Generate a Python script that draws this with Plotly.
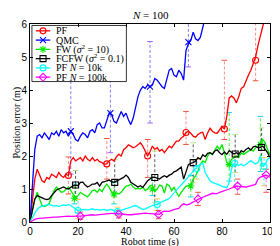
import plotly.graph_objects as go

# ---------------- data ----------------
t = list(range(0, 101))
t_qmc = list(range(0, 77))

pf = [0, 0.6, 1.3, 1.6, 1.45, 1.25, 1.2, 1.35, 1.3, 1.45, 1.4, 1.35, 1.5, 1.4, 1.35, 1.45, 1.41,
      1.85, 1.95, 1.85, 1.9, 1.95, 1.85, 2.0, 1.9, 1.85, 1.95, 1.85, 1.9, 1.83, 1.8, 1.75, 1.76,
      1.85, 1.9, 1.85, 1.98, 2.05, 2.0, 2.19, 2.25, 2.34, 2.3, 2.25, 2.28, 2.35, 2.4, 2.3, 2.15,
      2.0, 2.13, 2.3, 2.2, 2.25, 2.15, 2.2, 2.1, 2.2, 2.3, 2.25, 2.35, 2.45, 2.45, 2.55, 2.6,
      2.71, 2.75, 2.69, 2.6, 2.57, 2.65, 2.7, 2.72, 2.5, 2.7, 2.84, 2.75, 2.7, 2.69, 2.8, 2.9,
      2.82, 3.2, 3.76, 3.82, 3.75, 3.61, 3.8, 4.05, 4.1, 4.3, 4.45, 4.6, 4.8, 5.0, 5.35, 5.65,
      5.9, 6.2, 6.5, 6.8]

qmc = [0, 1.0, 2.2, 2.6, 2.65, 2.55, 2.7, 2.6, 2.5, 2.7, 2.65, 2.75, 2.6, 2.8, 2.7, 2.75, 2.6,
       2.75, 2.65, 2.5, 2.45, 2.6, 2.7, 2.65, 2.55, 2.75, 2.8, 2.7, 2.95, 3.0, 2.85, 2.85, 3.1,
       3.3, 3.25, 3.05, 3.0, 3.2, 3.35, 3.2, 3.3, 3.1, 2.95, 3.15, 3.45, 3.8, 4.0, 4.1, 4.05,
       4.15, 4.1, 4.15, 4.35, 4.3, 4.2, 4.1, 4.05, 4.3, 4.6, 4.65, 4.45, 4.4, 4.6, 4.5, 4.3,
       5.2, 5.4, 5.5, 5.75, 5.55, 5.5, 5.6, 5.95, 6.2, 6.4, 6.6, 6.8]

fw = [0, 0.35, 0.68, 0.9, 0.7, 0.5, 0.47, 0.5, 0.56, 0.75, 0.95, 1.06, 0.98, 0.9, 0.92, 1.0,
      1.06, 0.95, 0.82, 0.72, 0.8, 0.9, 0.85, 0.8, 0.76, 0.85, 0.95, 0.97, 0.9, 1.0, 0.92, 1.05,
      1.15, 1.05, 0.9, 0.85, 0.88, 0.85, 0.9, 1.0, 1.09, 1.1, 1.15, 1.06, 1.0, 1.02, 1.0, 1.06,
      0.95, 1.0, 1.1, 1.12, 0.92, 1.0, 1.12, 1.09, 0.88, 1.15, 1.1, 0.95, 1.05, 0.9, 0.78, 0.9,
      1.0, 1.09, 1.1, 1.09, 1.3, 1.4, 1.55, 1.75, 1.85, 1.8, 2.0, 2.1, 2.05, 2.2, 2.3, 2.2,
      2.35, 2.1, 1.8, 1.74, 1.9, 1.95, 2.0, 1.95, 2.1, 2.05, 2.1, 2.15, 2.2, 2.15, 2.25, 2.3,
      2.35, 2.5, 2.4, 2.2, 2.04]

fcfw = [0, 0.4, 0.7, 0.8, 0.76, 0.72, 0.7, 0.68, 0.7, 0.8, 0.9, 0.97, 1.0, 1.02, 1.06, 1.02,
        1.0, 1.05, 1.1, 1.12, 1.1, 1.2, 1.21, 1.12, 1.06, 1.1, 1.15, 1.15, 1.2, 1.09, 1.2, 1.22,
        1.25, 1.27, 1.22, 1.2, 1.24, 1.28, 1.3, 1.35, 1.42, 1.35, 1.2, 1.15, 1.12, 1.06, 1.1,
        1.05, 1.15, 1.25, 1.3, 1.36, 1.35, 1.32, 1.3, 1.36, 1.4, 1.36, 1.42, 1.45, 1.52, 1.55,
        1.6, 1.66, 1.3, 1.55, 1.74, 1.78, 1.8, 1.85, 1.95, 1.9, 2.04, 1.98, 2.08, 2.1, 2.05,
        2.15, 2.19, 2.1, 2.04, 2.12, 2.05, 2.16, 2.1, 2.06, 2.1, 2.05, 2.16, 2.12, 2.2, 2.25,
        2.18, 2.28, 2.3, 2.25, 2.26, 2.3, 2.2, 2.1, 1.95]

pf10k = [0, 0.15, 0.27, 0.38, 0.45, 0.47, 0.5, 0.52, 0.53, 0.5, 0.48, 0.5, 0.47, 0.5, 0.52,
         0.5, 0.53, 0.5, 0.45, 0.4, 0.35, 0.37, 0.38, 0.38, 0.36, 0.38, 0.4, 0.37, 0.38, 0.36,
         0.37, 0.38, 0.35, 0.37, 0.38, 0.34, 0.32, 0.33, 0.35, 0.38, 0.4, 0.42, 0.45, 0.48,
         0.5, 0.46, 0.42, 0.38, 0.4, 0.44, 0.48, 0.5, 0.52, 0.53, 0.58, 0.62, 0.65, 0.68, 0.71,
         0.8, 0.9, 0.98, 1.05, 1.12, 1.2, 1.3, 1.36, 1.45, 1.55, 1.6, 1.7, 1.75, 1.78, 1.5,
         1.39, 1.25, 1.2, 1.18, 1.14, 1.12, 1.08, 1.06, 1.04, 1.2, 1.62, 1.78, 1.74, 1.72, 1.75,
         1.7, 1.75, 1.8, 1.86, 1.8, 1.76, 1.8, 2.0, 1.68, 1.75, 1.9, 1.95]

pf100k = [0, 0.05, 0.08, 0.1, 0.11, 0.12, 0.12, 0.13, 0.14, 0.14, 0.15, 0.15, 0.16, 0.16, 0.17,
          0.17, 0.18, 0.17, 0.18, 0.18, 0.18, 0.18, 0.19, 0.2, 0.2, 0.21, 0.22, 0.21, 0.22,
          0.22, 0.23, 0.24, 0.24, 0.25, 0.26, 0.26, 0.25, 0.24, 0.24, 0.23, 0.23, 0.22, 0.22,
          0.23, 0.24, 0.25, 0.26, 0.27, 0.27, 0.26, 0.25, 0.24, 0.23, 0.23, 0.23, 0.3, 0.33,
          0.32, 0.32, 0.35, 0.38, 0.4, 0.41, 0.5, 0.55, 0.52, 0.53, 0.57, 0.62, 0.66, 0.7, 0.72,
          0.75, 0.78, 0.83, 0.84, 0.87, 0.86, 0.86, 0.9, 0.92, 0.95, 0.97, 1.0, 1.03, 1.06, 1.09,
          1.08, 1.07, 1.06, 1.06, 1.08, 1.1, 1.12, 1.14, 1.3, 1.36, 1.38, 1.42, 1.4, 1.36]

# markers with error bars: x, y, upper end, lower end
pf_mx = [16, 32, 49, 65, 81, 94]
pf_my = [1.41, 1.76, 2.0, 2.71, 2.82, 4.9]
pf_hi = [1.97, 2.53, 2.5, 3.35, 4.9, 6.5]
pf_lo = [0.85, 1.3, 1.35, 2.35, 2.5, 4.28]

qmc_mx = [17, 33.5, 50, 66]
qmc_my = [2.75, 3.3, 4.1, 5.45]
qmc_hi = [4.4, 4.5, 5.47, 6.5]
qmc_lo = [1.45, 2.1, 3.0, 4.7]

fw_mx = [18.5, 35, 51, 67, 83, 96]
fw_my = [0.72, 0.85, 1.0, 1.09, 1.74, 2.35]
fw_hi = [1.15, 1.2, 1.35, 1.41, 3.32, 3.2]
fw_lo = [0.55, 0.55, 0.8, 0.76, 1.24, 1.53]

fcfw_mx = [19, 35.3, 52, 68, 85.5, 96.5]
fcfw_my = [1.12, 1.2, 1.35, 1.8, 2.06, 2.26]
fcfw_hi = [1.56, 1.9, 2.15, 2.4, 2.65, 2.85]
fcfw_lo = [0.7, 0.75, 0.6, 1.2, 1.5, 1.7]

pf10k_mx = [20, 36.5, 53, 69.5, 85.3, 97.5]
pf10k_my = [0.35, 0.32, 0.53, 1.62, 1.78, 1.68]
pf10k_hi = [0.68, 0.45, 0.7, 1.9, 2.0, 1.95]
pf10k_lo = [0.1, 0.2, 0.35, 1.3, 1.06, 1.1]

pf100k_mx = [21, 37, 53.6, 70, 86.5, 98.4]
pf100k_my = [0.18, 0.24, 0.23, 0.7, 1.09, 1.43]
pf100k_hi = [0.3, 0.35, 0.35, 0.9, 1.3, 1.6]
pf100k_lo = [0.08, 0.12, 0.1, 0.5, 0.84, 0.9]

names = ["PF", "QMC", "FW (<i>σ</i><sup>2</sup> = 10)", "FCFW (<i>σ</i><sup>2</sup> = 0.1)",
         "PF <i>N</i> = 10k", "PF <i>N</i> = 100k"]
x_ticks = [0, 20, 40, 60, 80, 100]
y_ticks = [0, 1, 2, 3, 4, 5, 6]

series = [
    (t, pf, pf_mx, pf_my, pf_hi, pf_lo, "rgb(255,0,0)", "rgba(255,60,60,0.6)", "circle-open"),
    (t_qmc, qmc, qmc_mx, qmc_my, qmc_hi, qmc_lo, "rgb(0,0,255)", "rgba(60,60,255,0.65)", "x-thin-open"),
    (t, fw, fw_mx, fw_my, fw_hi, fw_lo, "rgb(0,235,0)", "rgba(0,230,0,0.7)", "asterisk-open"),
    (t, fcfw, fcfw_mx, fcfw_my, fcfw_hi, fcfw_lo, "rgb(0,0,0)", "rgba(0,0,0,0.65)", "square-open"),
    (t, pf10k, pf10k_mx, pf10k_my, pf10k_hi, pf10k_lo, "rgb(0,255,255)", "rgba(0,230,230,0.7)", "circle-open"),
    (t, pf100k, pf100k_mx, pf100k_my, pf100k_hi, pf100k_lo, "rgb(255,0,255)", "rgba(255,60,255,0.65)", "diamond-open"),
]

# layout geometry: targets given in reference pixels, vertical ones scaled to the visible page height
W, H = 280, 240
VS = H / 246.0
ML, MR = 22, 9
MT = 16 * VS
MB = H - 219 * VS
PW, PH = W - ML - MR, H - MT - MB


def px_to_fy(py_ref):
    return (H - MB - py_ref * VS) / PH


def px_to_fx(px):
    return (px - ML) / PW


fig = go.Figure()

# error bars (dashed) drawn first
for (xs, ys, mx, my, hi, lo, col, ecol, sym) in series:
    ex, ey = [], []
    for xi, h, l in zip(mx, hi, lo):
        ex += [xi, xi, None]
        ey += [l, h, None]
    fig.add_trace(go.Scatter(x=ex, y=ey, mode="lines", line=dict(color=ecol, width=1, dash="3px,2px"),
                             showlegend=False, hoverinfo="skip"))
    fig.add_trace(go.Scatter(x=mx + mx, y=hi + lo, mode="markers",
                             marker=dict(symbol="line-ew-open", size=4, line=dict(color=ecol, width=1)),
                             showlegend=False, hoverinfo="skip"))

for (xs, ys, mx, my, hi, lo, col, ecol, sym) in series:
    fig.add_trace(go.Scatter(x=xs, y=ys, mode="lines", line=dict(color=col, width=1.3),
                             showlegend=False))
    fig.add_trace(go.Scatter(x=mx, y=my, mode="markers",
                             marker=dict(symbol=sym, size=6, color=col, line=dict(color=col, width=1.1)),
                             showlegend=False))

# ---------------- hand-drawn legend on an overlay axis ----------------
bx0, bx1 = px_to_fx(24), px_to_fx(122)
by1, by0 = px_to_fy(17.5), px_to_fy(75)
fig.add_trace(go.Scatter(x=[bx0, bx1, bx1, bx0, bx0], y=[by0, by0, by1, by1, by0], mode="lines",
                         fill="toself", fillcolor="white", line=dict(color="black", width=0.8),
                         xaxis="x2", yaxis="y2", showlegend=False, hoverinfo="skip"))
entry_py = [23, 32.5, 42, 51.5, 61, 70.5]
for (s, epy, nm) in zip(series, entry_py, names):
    col, sym = s[6], s[8]
    ly = px_to_fy(epy)
    fig.add_trace(go.Scatter(x=[px_to_fx(28), px_to_fx(43)], y=[ly, ly], mode="lines",
                             line=dict(color=col, width=1.3),
                             xaxis="x2", yaxis="y2", showlegend=False, hoverinfo="skip"))
    fig.add_trace(go.Scatter(x=[px_to_fx(35.5)], y=[ly], mode="markers",
                             marker=dict(symbol=sym, size=6, color=col, line=dict(color=col, width=1.1)),
                             xaxis="x2", yaxis="y2", showlegend=False, hoverinfo="skip"))
    fig.add_annotation(x=px_to_fx(47), y=ly, xref="paper", yref="paper", text=nm, showarrow=False,
                       xanchor="left", yanchor="middle",
                       font=dict(family="Liberation Serif", size=10, color="black"))

axis_common = dict(showgrid=False, zeroline=False, showline=True, linecolor="black", linewidth=1,
                   mirror="ticks", ticks="inside", ticklen=3, tickcolor="black",
                   tickfont=dict(family="Liberation Sans", size=10, color="black"))

fig.update_layout(
    width=W, height=H,
    margin=dict(l=ML, r=MR, t=MT, b=MB),
    paper_bgcolor="white", plot_bgcolor="white",
    showlegend=False,
    xaxis=dict(range=[0, 100], tickvals=x_ticks, **axis_common),
    yaxis=dict(range=[0, 6], tickvals=y_ticks, **axis_common),
    xaxis2=dict(overlaying="x", range=[0, 1], visible=False, fixedrange=True),
    yaxis2=dict(overlaying="y", range=[0, 1], visible=False, fixedrange=True),
)

fig.add_annotation(x=0.5, y=px_to_fy(7), xref="paper", yref="paper", text="<i>N</i> = 100", showarrow=False,
                   xanchor="center", yanchor="middle", font=dict(family="Liberation Serif", size=11, color="black"))
fig.add_annotation(x=0.5, y=px_to_fy(239), xref="paper", yref="paper", text="Robot time (s)", showarrow=False,
                   xanchor="center", yanchor="middle", font=dict(family="Liberation Serif", size=10, color="black"))
fig.add_annotation(x=px_to_fx(8), y=0.5, xref="paper", yref="paper", text="Position error (m)", showarrow=False,
                   textangle=-90, xanchor="center", yanchor="middle",
                   font=dict(family="Liberation Serif", size=10, color="black"))

fig.write_html("out.html")
